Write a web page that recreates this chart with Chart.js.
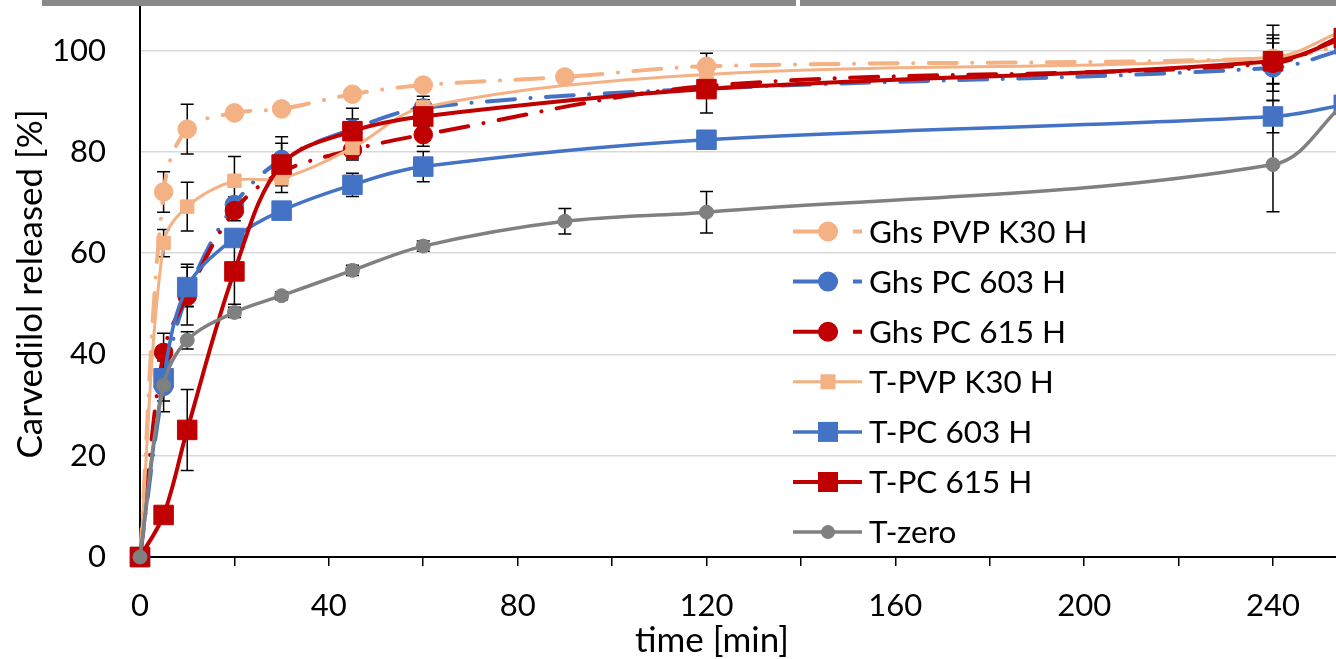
<!DOCTYPE html>
<html><head><meta charset="utf-8">
<script src="https://cdn.jsdelivr.net/npm/chart.js@4.4.1/dist/chart.umd.min.js"></script>
<style>html,body{margin:0;padding:0;background:#fff;overflow:hidden}canvas{display:block}</style>
</head><body>
<canvas id="c" width="1336" height="659"></canvas>
<script>
// ---- data ----
const seriesNames = ['Ghs PVP K30 H','Ghs PC 603 H','Ghs PC 615 H','T-PVP K30 H','T-PC 603 H','T-PC 615 H','T-zero'];
const xTitle = 'time [min]';
const yTitle = 'Carvedilol released [%]';
const timesGhsPvp = [0,5,10,20,30,45,60,90,120,240,255];
const timesGhs    = [0,5,10,20,30,45,60,120,240,255];
const timesT      = [0,5,10,20,30,45,60,120,240,255];
const timesZero   = [0,5,10,20,30,45,60,90,120,240,255];

const ghsPvpK30    = [0,72.1,84.5,87.7,88.5,91.4,93.2,94.8,96.9,98.5,101];
const ghsPvpK30Err = [0,4.0,4.9,1.0,1.0,1.0,1.0,0.8,2.6,6.5,0];
const ghsPc603     = [0,33.7,51.8,69.6,78.5,84.5,88.7,92.5,96.6,100.2];
const ghsPc603Err  = [0,5.0,6.0,1.5,3.2,2.0,2.3,1.5,6.5,0];
const ghsPc615     = [0,40.4,51.5,68.4,76.0,80.4,83.4,93.0,97.5,103];
const ghsPc615Err  = [0,3.8,2.0,2.0,2.0,2.0,2.3,1.5,4.0,0];
const tPvpK30      = [0,62.0,69.2,74.3,74.8,80.8,88.8,95.3,98.7,104];
const tPvpK30Err   = [0,2.7,4.8,4.8,1.5,2.0,1.5,1.0,1.0,0];
const tPc603       = [0,35.3,53.3,63.0,68.4,73.5,77.1,82.4,87.0,89.3];
const tPc603Err    = [0,4.5,3.9,1.5,1.5,2.3,3.0,1.0,3.2,0];
const tPc615       = [0,8.3,25.1,56.4,77.5,84.1,87.0,92.4,97.9,102.5];
const tPc615Err    = [0,0.5,8.0,6.5,5.5,4.5,2.0,4.7,4.5,0];
const tZero        = [0,33.9,42.8,48.3,51.6,56.6,61.4,66.3,68.1,77.5,89.5];
const tZeroErr     = [0,1.0,1.7,1.0,0.8,1.0,1.0,2.5,4.1,9.3,0];

const xTicks = [0,20,40,60,80,100,120,140,160,180,200,220,240];
const yTicks = [0,20,40,60,80,100];

// ---- styles ----
const PEACH = '#F4B183', BLUE = '#4472C4', RED = '#C00000', GREY = '#808080';
const FONT = 'Lato, "Open Sans", sans-serif';
const DASHDOT = [28, 15.5, 0.1, 15.5];

function pts(t, v) { return t.map((x, i) => ({x: x, y: v[i]})); }

function ds(label, t, v, err, color, o) {
  return Object.assign({
    label: label,
    data: pts(t, v),
    errors: err,
    borderColor: color,
    backgroundColor: color,
    pointBackgroundColor: color,
    pointBorderColor: color,
    pointBorderWidth: 1,
    tension: 0.35,
    fill: false,
    borderCapStyle: 'round',
    clip: {left: 16, top: 0, right: 0, bottom: 16}
  }, o);
}

const datasets = [
  ds(seriesNames[0], timesGhsPvp, ghsPvpK30, ghsPvpK30Err, PEACH, {borderWidth: 4, borderDash: DASHDOT, pointStyle: 'circle', pointRadius: 9.3, order: 6, mk: 'circle', mr: 10, dash: true}),
  ds(seriesNames[1], timesGhs, ghsPc603, ghsPc603Err, BLUE, {borderWidth: 4, borderDash: DASHDOT, pointStyle: 'circle', pointRadius: 9.3, order: 5, mk: 'circle', mr: 10, dash: true}),
  ds(seriesNames[2], timesGhs, ghsPc615, ghsPc615Err, RED, {borderWidth: 4, borderDash: DASHDOT, pointStyle: 'circle', pointRadius: 9.3, order: 4, mk: 'circle', mr: 10, dash: true}),
  ds(seriesNames[3], timesT, tPvpK30, tPvpK30Err, PEACH, {borderWidth: 3, pointStyle: 'rect', pointRadius: 9.5, order: 3, mk: 'rect', mr: 7.5}),
  ds(seriesNames[4], timesT, tPc603, tPc603Err, BLUE, {borderWidth: 3.5, pointStyle: 'rect', pointRadius: 13.8, order: 2, mk: 'rect', mr: 10}),
  ds(seriesNames[5], timesT, tPc615, tPc615Err, RED, {borderWidth: 4, pointStyle: 'rect', pointRadius: 13.8, order: 1, mk: 'rect', mr: 10}),
  ds(seriesNames[6], timesZero, tZero, tZeroErr, GREY, {borderWidth: 3.5, pointStyle: 'circle', pointRadius: 7, order: 0, mk: 'circle', mr: 7})
];

// error bars, drawn under the series
const errorBars = {
  id: 'errorBars',
  beforeDatasetsDraw(chart) {
    const ctx = chart.ctx, xs = chart.scales.x, ys = chart.scales.y;
    ctx.save();
    ctx.strokeStyle = '#000';
    ctx.lineWidth = 1.5;
    chart.data.datasets.forEach(d => {
      d.data.forEach((p, i) => {
        const e = d.errors[i];
        if (!e || p.x > xs.max) return;
        const x = xs.getPixelForValue(p.x);
        const y1 = ys.getPixelForValue(p.y + e), y2 = ys.getPixelForValue(p.y - e);
        ctx.beginPath();
        ctx.moveTo(x, y1); ctx.lineTo(x, y2);
        ctx.moveTo(x - 6.5, y1); ctx.lineTo(x + 6.5, y1);
        ctx.moveTo(x - 6.5, y2); ctx.lineTo(x + 6.5, y2);
        ctx.stroke();
      });
    });
    ctx.restore();
  }
};

// Excel-like legend inside the plot
const xlLegend = {
  id: 'xlLegend',
  afterDraw(chart) {
    const ctx = chart.ctx;
    ctx.save();
    chart.data.datasets.forEach((d, i) => {
      const y = 231.5 + i * 50.1;
      ctx.strokeStyle = d.borderColor;
      ctx.lineWidth = d.borderWidth;
      ctx.lineCap = 'butt';
      ctx.beginPath();
      if (d.dash) {
        ctx.moveTo(793, y); ctx.lineTo(838, y);
        ctx.moveTo(853, y); ctx.lineTo(862, y);
      } else {
        ctx.moveTo(793, y); ctx.lineTo(862, y);
      }
      ctx.stroke();
      ctx.fillStyle = d.borderColor;
      ctx.beginPath();
      if (d.mk === 'circle') ctx.arc(828, y, d.mr, 0, Math.PI * 2);
      else ctx.rect(828 - d.mr, y - d.mr, 2 * d.mr, 2 * d.mr);
      ctx.fill();
      ctx.fillStyle = '#000';
      ctx.font = '31.5px ' + FONT;
      ctx.textAlign = 'left';
      ctx.textBaseline = 'middle';
      ctx.fillText(d.label, 869, y + 1);
    });
    ctx.restore();
  }
};

// axis titles placed as in the cropped original figure
const axisTitles = {
  id: 'axisTitles',
  afterDraw(chart) {
    const ctx = chart.ctx;
    ctx.save();
    ctx.fillStyle = '#000';
    ctx.font = '35px ' + FONT;
    ctx.textAlign = 'center';
    ctx.textBaseline = 'alphabetic';
    ctx.fillText(xTitle, 712, 652);
    ctx.translate(42, 284);
    ctx.rotate(-Math.PI / 2);
    ctx.fillText(yTitle, 0, 0);
    ctx.restore();
  }
};

// grey frame strip at the top of the cropped figure
const topStrip = {
  id: 'topStrip',
  afterDraw(chart) {
    const ctx = chart.ctx;
    ctx.save();
    ctx.fillStyle = '#898989';
    ctx.fillRect(42, 0, 754, 6);
    ctx.fillRect(800, 0, 536, 6);
    ctx.restore();
  }
};

Chart.defaults.font.family = FONT;
Chart.defaults.color = '#000';

new Chart(document.getElementById('c'), {
  type: 'line',
  data: {datasets: datasets},
  plugins: [errorBars, xlLegend, axisTitles, topStrip],
  options: {
    responsive: false,
    animation: false,
    events: [],
    layout: {padding: 0, autoPadding: false},
    elements: {line: {capBezierPoints: false}},
    plugins: {legend: {display: false}, tooltip: {enabled: false}},
    scales: {
      x: {
        type: 'linear', min: 0, max: 253.35,
        afterBuildTicks: s => { s.ticks = xTicks.map(v => ({value: v})); },
        afterFit: s => { s.height = 102; s.paddingLeft = 0; s.paddingRight = 0; s.paddingTop = 0; s.paddingBottom = 0; },
        ticks: {autoSkip: false, maxRotation: 0, padding: 21, font: {size: 31},
                callback: v => (v % 40 === 0 ? String(v) : '')},
        grid: {drawOnChartArea: false, drawTicks: true, tickLength: 9, color: '#000', tickColor: '#000', lineWidth: 1.5},
        border: {color: '#000', width: 2},
        title: {display: false}
      },
      y: {
        type: 'linear', min: 0, max: 110,
        afterBuildTicks: s => { s.ticks = yTicks.map(v => ({value: v})); },
        afterFit: s => { s.width = 140; s.paddingLeft = 0; s.paddingRight = 0; s.paddingTop = 0; s.paddingBottom = 0; },
        ticks: {padding: 34, font: {size: 31}},
        grid: {color: '#D9D9D9', lineWidth: 1.5, drawTicks: false},
        border: {color: '#000', width: 2},
        title: {display: false}
      }
    }
  }
});
</script>
</body></html>
